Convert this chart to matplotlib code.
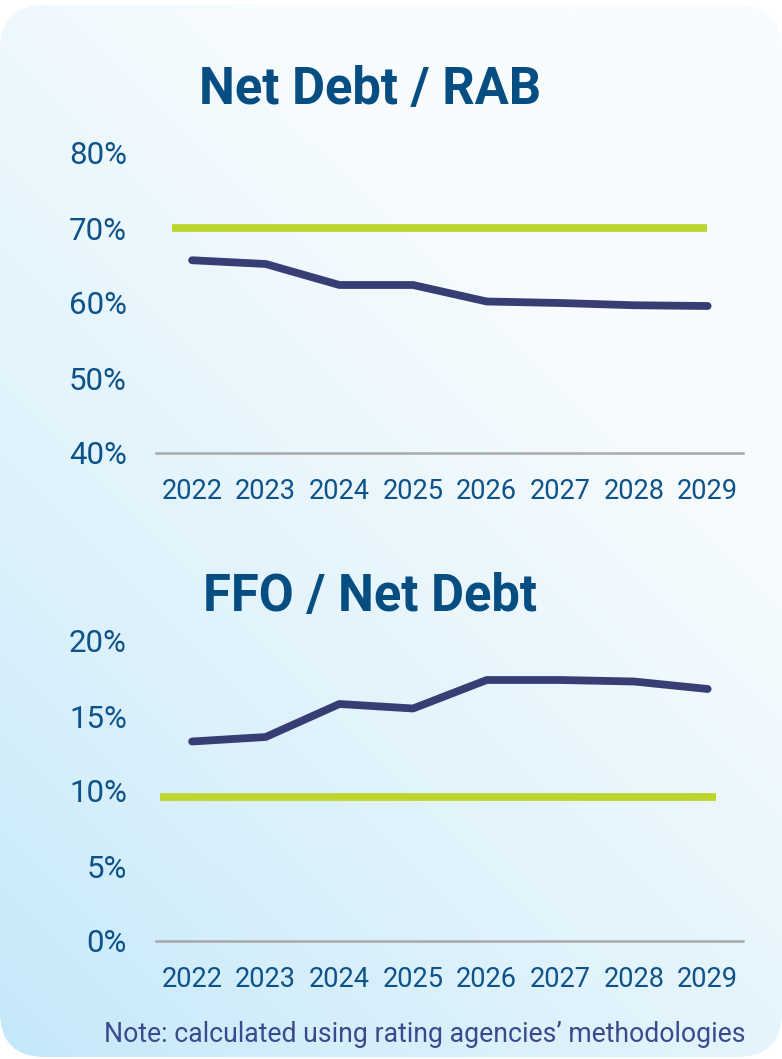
import numpy as np
import matplotlib
matplotlib.use("Agg")
import matplotlib.pyplot as plt
from matplotlib.patches import FancyBboxPatch
from matplotlib.colors import to_rgb

# ---- data ----
years = ["2022", "2023", "2024", "2025", "2026", "2027", "2028", "2029"]

net_debt_rab = [65.7, 65.2, 62.4, 62.4, 60.2, 60.0, 59.7, 59.6]
net_debt_rab_threshold = 70.0
net_debt_rab_ticks = [40, 50, 60, 70, 80]

ffo_net_debt = [13.3, 13.6, 15.8, 15.5, 17.4, 17.4, 17.3, 16.8]
ffo_net_debt_threshold = 9.6
ffo_net_debt_ticks = [0, 5, 10, 15, 20]

titles = ["Net Debt / RAB", "FFO / Net Debt"]
note = "Note: calculated using rating agencies\u2019 methodologies"

# ---- styling ----
W, H = 782, 1059
TITLE_C = "#064d82"
TICK_C = "#0d5289"
LINE_C = "#363e74"
GREEN_C = "#bcd62f"
AXIS_C = "#a9a9a9"
NOTE_C = "#3b4a8d"
FONT = "Roboto"

plt.rcParams["font.family"] = [FONT, "DejaVu Sans"]

fig = plt.figure(figsize=(W / 100, H / 100), dpi=100)
fig.patch.set_facecolor("white")

# gradient card in the background
bg = fig.add_axes([0, 0, 1, 1])
bg.set_xlim(0, W)
bg.set_ylim(H, 0)
bg.axis("off")
xx, yy = np.meshgrid(np.linspace(0, 1, 400), np.linspace(0, 1, 540))
t = np.clip((0.55 * xx + 0.75 * (1 - yy)) / 0.95, 0, 1) ** 0.8
c0 = np.array(to_rgb("#c2e7f9"))
c1 = np.array(to_rgb("#f8fcfe"))
img = c0[None, None, :] * (1 - t[..., None]) + c1[None, None, :] * t[..., None]
im = bg.imshow(img, extent=[0, W, H, 0], aspect="auto", interpolation="bilinear")
card = FancyBboxPatch((0, 5), W, 1052, boxstyle="round,pad=0,rounding_size=45",
                      transform=bg.transData, facecolor="none", edgecolor="none")
bg.add_patch(card)
im.set_clip_path(card)


def px_axes(left, top, right, bottom):
    return fig.add_axes([left / W, 1 - bottom / H, (right - left) / W, (bottom - top) / H])


def draw_panel(ax, values, threshold, ticks, green_span):
    x = np.arange(len(years))
    ax.set_facecolor("none")
    ax.axhline(threshold, xmin=green_span[0], xmax=green_span[1], color=GREEN_C,
               lw=5.6, solid_capstyle="butt", zorder=2)
    ax.plot(x, values, color=LINE_C, lw=5.6, solid_capstyle="round",
            solid_joinstyle="round", zorder=3)
    ax.set_xlim(-0.49, 7.48)
    ax.set_ylim(ticks[0], ticks[-1])
    ax.set_yticks(ticks)
    ax.set_yticklabels([f"{v}%" for v in ticks])
    ax.set_xticks(x)
    ax.set_xticklabels(years)
    for s in ["top", "left", "right"]:
        ax.spines[s].set_visible(False)
    ax.spines["bottom"].set_color(AXIS_C)
    ax.spines["bottom"].set_linewidth(1.8)
    ax.spines["bottom"].set_zorder(1)
    ax.tick_params(axis="y", length=0, pad=21, labelsize=22.5, labelcolor=TICK_C)
    ax.tick_params(axis="x", length=0, pad=18, labelsize=19.5, labelcolor=TICK_C)
    for ln in ax.lines:
        ln.set_clip_on(False)


ax1 = px_axes(156, 153, 743, 453)
draw_panel(ax1, net_debt_rab, net_debt_rab_threshold, net_debt_rab_ticks, (0.027, 0.939))

ax2 = px_axes(156, 641, 743, 941)
draw_panel(ax2, ffo_net_debt, ffo_net_debt_threshold, ffo_net_debt_ticks, (0.007, 0.954))

fig.text(370 / W, 1 - 90 / H, titles[0], ha="center", va="center",
         fontsize=36.5, fontweight="bold", color=TITLE_C)
fig.text(370 / W, 1 - 597 / H, titles[1], ha="center", va="center",
         fontsize=36.5, fontweight="bold", color=TITLE_C)
fig.text(745 / W, 1 - 1035 / H, note, ha="right", va="center",
         fontsize=19.2, color=NOTE_C)

fig.savefig("out.png", dpi=100, facecolor="white")
